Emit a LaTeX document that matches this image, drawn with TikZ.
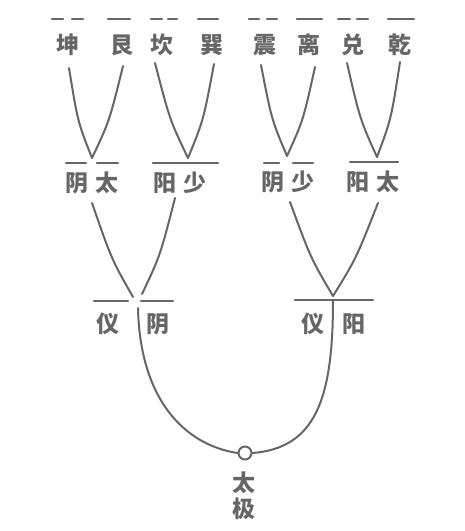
\documentclass[tikz,border=0pt]{standalone}
\usepackage{fontspec}
\newfontfamily\cjk{Noto Sans CJK SC}
\usetikzlibrary{calc}
\definecolor{ink}{HTML}{666666}
\definecolor{txt}{HTML}{666666}
\tikzset{
  lbl/.style={font=\cjk\bfseries\fontsize{23}{23}\selectfont, text=txt, inner sep=0pt},
  ln/.style={draw=ink, line width=2pt, line cap=round},
  yao/.style={draw=ink, line width=2.3pt, line cap=round},
}
\newcommand{\armL}[2]{\draw[ln] (#1) .. controls ($(#1)!0.6!(#2)+(-5,0)$) .. (#2);}
\newcommand{\armR}[2]{\draw[ln] (#1) .. controls ($(#1)!0.6!(#2)+(5,0)$) .. (#2);}
\begin{document}
\begin{tikzpicture}[x=1pt,y=-1pt]
\useasboundingbox (0,0) rectangle (465,531);
% top row
\node[lbl] (kun)  at (68,45)  {坤};
\node[lbl] (gen)  at (122,45) {艮};
\node[lbl] (kan)  at (162,45) {坎};
\node[lbl] (xun)  at (212,45) {巽};
\node[lbl] (zhen) at (265,45) {震};
\node[lbl] (li)   at (309,45) {离};
\node[lbl] (dui)  at (353,45) {兑};
\node[lbl] (qian) at (400,45) {乾};
% top lines
\draw[yao] (52,19) -- (63,19); \draw[yao] (72,19) -- (83,19);
\draw[yao] (108,19) -- (130,19);
\draw[yao] (151,19) -- (162,19); \draw[yao] (168,19) -- (177,19);
\draw[yao] (198,19) -- (218,19);
\draw[yao] (249,19) -- (259,19); \draw[yao] (267,19) -- (277,19);
\draw[yao] (297,19) -- (322,19);
\draw[yao] (338,19) -- (350,19); \draw[yao] (357,19) -- (368,19);
\draw[yao] (388,19) -- (414,19);
% arm tops
\coordinate (t1) at (69,68);  \coordinate (t2) at (123,66);
\coordinate (t3) at (155,63); \coordinate (t4) at (214,64);
\coordinate (t5) at (261,65); \coordinate (t6) at (315,67);
\coordinate (t7) at (347,63); \coordinate (t8) at (400,62);
\coordinate (v1) at (92,158);  \coordinate (v2) at (188,158);
\coordinate (v3) at (287,156); \coordinate (v4) at (377,157);
\armL{t1}{v1} \armR{t2}{v1}
\armL{t3}{v2} \armR{t4}{v2}
\armL{t5}{v3} \armR{t6}{v3}
\armL{t7}{v4} \armR{t8}{v4}
% second level lines
\draw[yao] (66,163) -- (86,163); \draw[yao] (97,163) -- (118,163);
\draw[yao] (153,163) -- (218,163);
\draw[yao] (264,163) -- (279,163); \draw[yao] (293,163) -- (313,163);
\draw[yao] (350,162) -- (398,162);
% second level text
\node[lbl] (a1) at (77,183)  {阴};
\node[lbl] (a2) at (107,183) {太};
\node[lbl] (b1) at (165,183) {阳};
\node[lbl] (b2) at (195,183) {少};
\node[lbl] (c1) at (273,182) {阴};
\node[lbl] (c2) at (303,182) {少};
\node[lbl] (d1) at (358,182) {阳};
\node[lbl] (d2) at (388,182) {太};
% lower arms
\coordinate (u1) at (92,203);  \coordinate (u2) at (175,198);
\coordinate (u3) at (290,202); \coordinate (u4) at (378,203);
\coordinate (w1) at (133,297); \coordinate (w2) at (142,294);
\coordinate (w3) at (333,296);
\armL{u1}{w1} \armR{u2}{w2}
\armL{u3}{w3} \armR{u4}{w3}
% third level lines
\draw[yao] (94,301) -- (128,301); \draw[yao] (141,301) -- (173,301);
\draw[yao] (295,300) -- (373,300);
\node[lbl] (e1) at (108,324) {仪};
\node[lbl] (e2) at (158,324) {阴};
\node[lbl] (f1) at (313,324) {仪};
\node[lbl] (f2) at (354,324) {阳};
% taiji
\node[draw=ink, line width=2pt, circle, minimum size=13pt, inner sep=0pt] (o) at (245,453) {};
\coordinate (s1) at (138,308);
\coordinate (s2) at (333,301);
\draw[ln] (s1) .. controls (140,400) and (185,445) .. (o.west);
\draw[ln] (s2) .. controls (333,400) and (315,448) .. (o.east);
\node[lbl] (tai) at (244,483) {太};
\node[lbl] (ji)  at (244,509) {极};
\end{tikzpicture}
\end{document}
